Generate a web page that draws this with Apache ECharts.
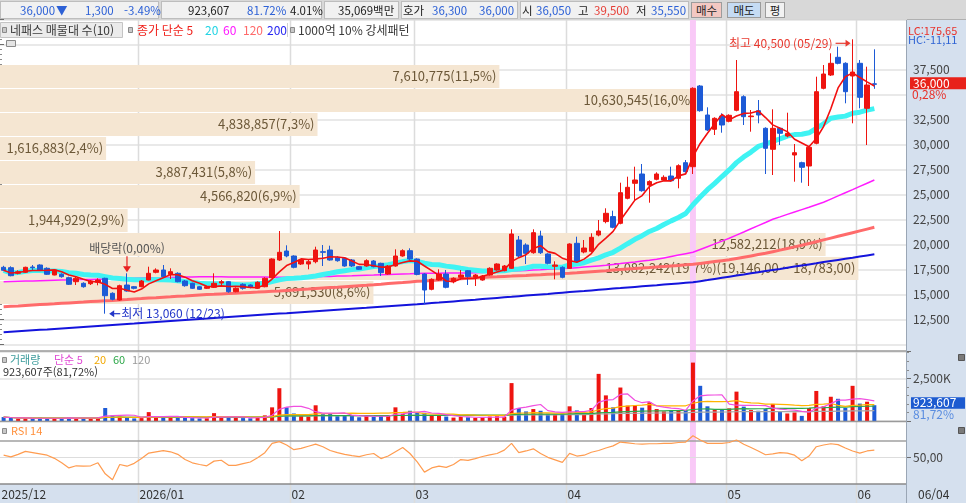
<!DOCTYPE html>
<html lang="ko"><head><meta charset="utf-8"><title>네패스</title>
<script src="https://cdn.jsdelivr.net/npm/echarts@6/dist/echarts.min.js"></script>
<style>
html,body{margin:0;padding:0;width:966px;height:503px;overflow:hidden;background:#fff;font-family:'Noto Sans CJK KR','Noto Sans',sans-serif;}
.bg{position:absolute;}
#chart{position:absolute;left:0;top:0;width:966px;height:503px;}
.hc{position:absolute;top:1px;height:18px;box-sizing:border-box;background:#f1f1f1;border:1px solid #bdbdbd;}
.hb{position:absolute;top:2px;height:16px;box-sizing:border-box;border:1px solid #9c9c9c;font-size:11.5px;line-height:14px;text-align:center;color:#222;}
.ht{position:absolute;top:1px;height:18px;line-height:18px;font-size:11.5px;white-space:nowrap;}
.bl{color:#2d61d6}.rd{color:#e63c34}.dk{color:#222}
</style></head><body>
<div class="bg" style="left:0;top:0;width:966px;height:20px;background:#d8d8d8;border-bottom:1px solid #b0b0b0;box-sizing:border-box"></div>
<div class="bg" style="left:907px;top:20px;width:59px;height:483px;background:#d5e0ee"></div>
<div class="bg" style="left:0;top:484px;width:907px;height:19px;background:#d5e0ee"></div>
<div class="hc" style="left:0;width:159px"></div>
<div class="hc" style="left:161px;width:161px"></div>
<div class="hc" style="left:324px;width:75px"></div>
<div class="hc" style="left:401px;width:117px"></div>
<div class="hc" style="left:520px;width:169px"></div>
<div class="hb" style="left:691px;width:31px;background:#f3c8c2">매수</div>
<div class="hb" style="left:727px;width:34px;background:#c5dbf3">매도</div>
<div class="hb" style="left:765px;width:20px;background:#f2f2f2">평</div>
<div id="chart"></div>
<span class="ht bl" style="left:20px" id="hLast"></span>
<span class="ht bl" style="left:56px">▼</span>
<span class="ht bl" style="left:85px" id="hChg"></span>
<span class="ht bl" style="left:124px" id="hRate"></span>
<span class="ht dk" style="left:188px" id="hVol"></span>
<span class="ht bl" style="left:247px" id="hVolRate"></span>
<span class="ht dk" style="left:290px">4.01%</span>
<span class="ht dk" style="left:338px">35,069백만</span>
<span class="ht dk" style="left:403px">호가</span>
<span class="ht bl" style="left:432px">36,300</span>
<span class="ht bl" style="left:479px">36,000</span>
<span class="ht dk" style="left:522px">시</span>
<span class="ht bl" style="left:536px" id="hOpen"></span>
<span class="ht dk" style="left:578px">고</span>
<span class="ht rd" style="left:594px" id="hHigh"></span>
<span class="ht dk" style="left:636px">저</span>
<span class="ht bl" style="left:651px" id="hLow"></span>
<script>
const FONT = "'Noto Sans CJK KR','Noto Sans',sans-serif";

const tradingDays = {
  '2025/12': [3,4,5,8,9,10,11,12,15,16,17,18,19,22,23,24,26,29,30],
  '2026/01': [2,5,6,7,8,9,12,13,14,15,16,19,20,21,22,23,26,27,28,29,30],
  '2026/02': [2,3,4,5,6,9,10,11,12,13,19,20,23,24,25,26,27],
  '2026/03': [3,4,5,6,9,10,11,12,13,16,17,18,19,20,23,24,25,26,27,30,31],
  '2026/04': [1,2,3,6,7,8,9,10,13,14,15,16,17,20,21,22,23,24,27,28,29,30],
  '2026/05': [4,6,7,8,11,12,13,14,15,18,19,20,21,22,26,27,28,29],
  '2026/06': [1,2,4]
};

const opens = [17700,17660,17100,17200,17730,17930,17600,16930,17000,16660,
16260,16100,16060,16200,16600,15100,14430,15930,15760,15760,
16430,17200,17430,16990,17100,16330,16100,15760,15600,15700,
16130,16260,15260,16000,15930,15600,15760,16660,18430,19330,
18830,18030,18030,18260,19260,19430,18700,18600,18430,17760,
17830,18330,18100,17030,17830,18830,19360,18530,17030,15500,
16430,17030,16260,16700,17360,16700,16430,16930,17430,17360,
17600,20430,19930,19160,20830,19030,17800,17700,17600,20100,
19230,19300,20930,22270,22770,22100,24600,26100,27030,25930,
26500,26430,26830,26600,28160,27760,35830,32930,31500,32830,
32300,33400,34760,32760,33360,31600,29500,31600,30830,28930,
28160,27830,30100,35600,36930,38700,38100,36830,38100,33600,
36050];

const closes = [17400,16860,17260,17700,17660,17430,17000,17430,16760,16000,
16600,15760,16330,16430,14860,14500,15860,15330,15600,16330,
17100,17430,16760,17260,16260,15860,15600,15500,15760,16100,
16260,15260,15600,15600,15700,16200,16600,18530,19200,18830,
17700,18430,18260,19430,19200,18430,18360,17830,17830,17500,
18360,17760,17160,17830,18830,19360,18530,16990,15430,16500,
17030,15700,16600,16930,16760,16930,16830,17600,18030,17830,
21030,18830,19100,21160,19160,18100,17930,16700,20030,18300,
19630,20700,21330,23100,21700,25160,25700,26430,25360,26270,
27030,26700,26360,27860,27260,35600,33360,31430,32600,31930,
32900,35260,32760,32830,32930,29600,31600,31100,31100,29160,
27700,29700,35260,37030,38100,38100,35260,37230,34700,35930,
36000];

const highs = [17850,17800,17400,17760,17930,18000,17700,17500,17100,16760,
16760,16200,16430,16600,16660,15200,15960,17100,15830,16430,
17760,17600,17930,17600,17200,16430,16160,15830,15830,17100,
16430,16330,15700,16100,16000,16300,16700,18600,21330,19900,
18900,18530,18500,19760,19930,19860,18800,18700,18530,17830,
18500,18430,18160,17930,19500,19500,19600,18600,17100,16600,
17500,17430,16700,17430,17430,17030,16930,17700,18100,17930,
21500,20830,20100,21500,21360,19100,18300,17800,20100,20760,
20430,21100,22430,23600,23360,26160,26760,27760,28030,26400,
27200,26900,27760,28000,28430,35700,35930,33700,32700,33100,
33000,38430,34900,33430,34430,31700,33500,31700,33160,30030,
28260,29800,36760,37930,39100,39760,38200,40500,38430,37760,
39500];

const lows = [17350,16800,17000,17130,17400,17400,16930,16900,16660,15930,
15930,15660,15930,15900,13060,14400,14360,15260,15500,15700,
16400,17100,16660,16530,16200,15760,15530,15430,15530,15630,
15760,15160,15200,15460,15600,15530,15700,16600,18330,18700,
17600,17930,17500,18100,17830,18360,18260,17760,17730,17430,
17760,17700,16830,16960,17760,18760,18430,16900,14030,15400,
16360,15600,16100,16430,15930,15830,16360,16860,17360,17300,
17530,18700,18030,19060,19030,18000,16500,16600,17530,18200,
19100,19200,20800,22100,21600,22000,24500,24430,25260,24160,
26400,26330,26260,25600,27160,27030,33260,31330,30930,31160,
32200,33300,31930,31260,32100,27030,26930,29930,30700,26260,
26160,25830,30000,35500,36830,38000,34100,32100,33600,29930,
35550];

const volumes = [230000,180000,140000,160000,130000,200000,170000,150000,160000,210000,
170000,190000,150000,180000,760000,320000,260000,200000,150000,170000,
520000,250000,220000,200000,190000,210000,170000,150000,160000,460000,
200000,230000,180000,170000,160000,210000,330000,800000,1920000,800000,
440000,300000,260000,920000,400000,420000,280000,330000,300000,220000,
300000,250000,320000,300000,800000,420000,600000,520000,480000,320000,
300000,260000,200000,240000,220000,180000,200000,260000,280000,240000,
2220000,760000,560000,700000,600000,420000,380000,440000,860000,620000,
460000,760000,2760000,1500000,800000,1960000,900000,920000,780000,1100000,
700000,560000,620000,640000,620000,3420000,2060000,860000,660000,640000,
740000,1720000,840000,640000,600000,700000,1000000,560000,440000,500000,
300000,760000,1760000,860000,1420000,1300000,760000,2060000,1020000,1130210,
923607];

const ma60Values = [16260,16280,16300,16320,16340,16360,16380,16400,16420,16440,
16450,16470,16490,16510,16530,16550,16570,16580,16600,16620,
16640,16660,16670,16690,16710,16730,16740,16760,16760,16750,
16750,16740,16740,16730,16730,16720,16720,16710,16710,16700,
16700,16700,16720,16750,16770,16790,16820,16840,16860,16890,
16910,16930,16960,16980,17010,17030,17050,17080,17100,17110,
17110,17120,17130,17140,17140,17150,17180,17220,17250,17290,
17320,17360,17390,17430,17460,17500,17530,17570,17600,17660,
17720,17780,17840,17900,17990,18070,18160,18240,18330,18410,
18500,18640,18780,18920,19060,19200,19480,19760,20040,20320,
20600,20920,21230,21550,21870,22180,22500,22740,22990,23230,
23470,23710,23960,24200,24520,24840,25160,25470,25790,26110,
26430];

const ma120Values = [13760,13800,13840,13890,13930,13970,14010,14050,14100,14140,
14180,14220,14270,14310,14350,14390,14440,14480,14530,14570,
14620,14660,14710,14750,14800,14840,14890,14930,14970,15000,
15040,15080,15110,15150,15190,15220,15260,15300,15330,15380,
15430,15480,15520,15570,15620,15670,15710,15760,15810,15860,
15900,15950,16010,16070,16130,16180,16240,16300,16340,16390,
16430,16480,16520,16560,16610,16650,16680,16720,16750,16790,
16820,16860,16890,16930,16960,17000,17030,17070,17100,17150,
17210,17260,17310,17360,17420,17470,17520,17570,17630,17680,
17740,17790,17840,17890,17950,18000,18090,18180,18270,18360,
18450,18580,18710,18840,18970,19100,19260,19420,19580,19740,
19900,20080,20260,20440,20620,20800,20980,21160,21340,21520,
21700];

const ma200Values = [11200,11250,11300,11350,11400,11450,11490,11540,11590,11640,
11690,11740,11790,11840,11890,11940,11990,12040,12080,12130,
12180,12230,12280,12330,12380,12430,12480,12530,12570,12620,
12670,12720,12770,12820,12870,12920,12970,13020,13070,13110,
13160,13210,13260,13310,13360,13410,13460,13510,13560,13610,
13650,13700,13750,13800,13850,13900,13950,14000,14060,14120,
14170,14230,14290,14350,14410,14460,14520,14580,14640,14700,
14750,14810,14870,14930,14990,15040,15100,15160,15220,15280,
15330,15390,15450,15510,15570,15620,15680,15740,15800,15860,
15910,15970,16030,16090,16150,16200,16310,16420,16540,16650,
16760,16870,16980,17100,17210,17320,17430,17540,17660,17770,
17880,17990,18100,18220,18330,18440,18550,18660,18780,18890,
19000];

const rsi14Values = [53,51,54,57.5,56,54.5,53,49.3,44,38,
40.5,40,40.5,44,31,24,42,40,43.4,49,
55.5,57,58.5,57,54,48,44,42,40.5,46,
47,41,41,43,45,50,56,67,69,65,
59.5,61,63.5,66,63,58.5,56,54,52.5,51.3,
53.5,55,49,52,57,62,55,45,33,38,
40,38.6,42,47.8,46.8,49,51.5,53.3,55,59,
67,56,58,60.5,55,50.5,47.5,44.5,55.2,52,
53,56.5,58.5,61.5,64,68.5,67.5,66.5,66,66.5,
66.5,67,67,68,68.5,76,71,67,67,67,
68,71,66,62,58,53.5,54.5,56,55.5,53,
46.5,52,63,65,66.5,65.5,61.5,58,55.5,58,
59];

const maPeriods = [5, 20, 60, 120, 200];
const volMaPeriods = [5, 20, 60, 120];
const rsiPeriod = 14;
const rsiLevels = [70, 50];

const profileLow    = [14030,16430,18830,21230,23630,26030,28430,30830,33230,35630];
const profileHigh   = [16430,18830,21230,23630,26030,28430,30830,33230,35630,38030];
const profileVolume = [5691530,13082242,12582212,1944929,4566820,3887431,1616883,4838857,10630545,7610775];
const profilePeakRange = [19146, 18783];

const patternDays = [95];
const exDividend = [17, 0.00];
const quoteChange = [-1300, -3.49];
const indicatorText = ['LC:175,65', 'HC:-11,11', '0,28%'];

/* ---------- derived ---------- */
const dates = [];
Object.keys(tradingDays).forEach(m => tradingDays[m].forEach(d => dates.push(m + '/' + String(d).padStart(2, '0'))));
const N = dates.length;
const categories = dates.concat(['p1', 'p2', 'p3', 'p4']);
function fmt(n) { return Math.round(n).toString().replace(/\B(?=(\d{3})+(?!\d))/g, ','); }
function movingAvg(arr, n) {
  return arr.map((_, i) => { const s = Math.max(0, i - n + 1); let t = 0; for (let k = s; k <= i; k++) t += arr[k]; return +(t / (i - s + 1)).toFixed(1); });
}
const monthStarts = [];
dates.forEach((d, i) => { if (i === 0 || d.slice(0, 7) !== dates[i - 1].slice(0, 7)) monthStarts.push(i); });
const candleData = dates.map((d, i) => [opens[i], closes[i], lows[i], highs[i]]);
const ma5 = movingAvg(closes, maPeriods[0]);
const ma20 = movingAvg(closes, maPeriods[1]);
const profileTotal = profileVolume.reduce((a, b) => a + b, 0);
const peakBand = profileVolume.indexOf(Math.max(...profileVolume));
const profileText = profileVolume.map((v, i) => fmt(v) + '(' + (v / profileTotal * 100).toFixed(1).replace('.', ',') + '%)' +
  (i === peakBand ? '(' + fmt(profilePeakRange[0]) + ',00 ~ ' + fmt(profilePeakRange[1]) + ',00)' : ''));
const profileData = profileVolume.map((v, i) => [v, profileLow[i], profileHigh[i]]);
let lowIdx = 0, highIdx = 0;
lows.forEach((v, i) => { if (v < lows[lowIdx]) lowIdx = i; });
highs.forEach((v, i) => { if (v > highs[highIdx]) highIdx = i; });
const annotations = [[lowIdx, lows[lowIdx], 0], [highIdx, highs[highIdx], 1], [exDividend[0], highs[exDividend[0]], 2]];
const last = N - 1;
const volRatio = (volumes[last] / volumes[last - 1] * 100).toFixed(2);

document.getElementById('hLast').textContent = fmt(closes[last]);
document.getElementById('hChg').textContent = fmt(Math.abs(quoteChange[0]));
document.getElementById('hRate').textContent = quoteChange[1].toFixed(2) + '%';
document.getElementById('hVol').textContent = fmt(volumes[last]);
document.getElementById('hVolRate').textContent = volRatio + '%';
document.getElementById('hOpen').textContent = fmt(opens[last]);
document.getElementById('hHigh').textContent = fmt(highs[last]);
document.getElementById('hLow').textContent = fmt(lows[last]);

const UP = '#ee1410', DOWN = '#1d5ad6';
const GRID_L = -2.3, GRID_W = 909.3, AXIS_X = 906.5;

function T(x, y, text, fill, size, align, z) {
  return { type: 'text', x: x, y: y, z: z || 20, silent: true,
    style: { text: text, fill: fill, font: size + 'px ' + FONT, align: align || 'left', verticalAlign: 'middle', textAlign: align || 'left', textVerticalAlign: 'middle' } };
}
function R(x, y, w, h, fill, stroke, z) {
  return { type: 'rect', z: z || 19, silent: true, shape: { x: x, y: y, width: w, height: h }, style: { fill: fill, stroke: stroke || null, lineWidth: 1 } };
}
function L(x1, y1, x2, y2, stroke, w, z) {
  return { type: 'line', z: z || 18, silent: true, shape: { x1: x1, y1: y1, x2: x2, y2: y2 }, style: { stroke: stroke, lineWidth: w } };
}

const staticGraphic = [
  L(0, 351, AXIS_X, 351, '#9a9a9a', 1.5),
  L(0, 421.5, AXIS_X, 421.5, '#9a9a9a', 1.5),
  L(0, 484, AXIS_X, 484, '#8a8a8a', 1.5),
  L(AXIS_X, 20, AXIS_X, 503, '#9aa6b5', 1),
  // main legend
  R(0.5, 22.5, 122, 15, '#ebebeb', '#c4c4c4'),
  R(2.5, 27.5, 4, 5, '#c8c8c8', '#8a8a8a'),
  T(10, 30, '네패스 매물대 수(' + profileVolume.length + ')', '#3a3a3a', 12),
  R(128.5, 27.5, 4, 5, '#c8c8c8', '#8a8a8a'),
  T(137, 30, '종가 단순 ' + maPeriods[0], '#f0201a', 12),
  T(205, 30, String(maPeriods[1]), '#22d4e4', 12),
  T(223, 30, String(maPeriods[2]), '#ff18ff', 12),
  T(243, 30, String(maPeriods[3]), '#ff6a6a', 12),
  T(267, 30, String(maPeriods[4]), '#2626f0', 12),
  L(287.5, 23, 287.5, 37, '#cfcfcf', 1),
  R(290.5, 27.5, 4, 5, '#c8c8c8', '#8a8a8a'),
  T(298, 30, '1000억 10% 강세패턴', '#3a3a3a', 12),
  R(6.5, 40.5, 9, 6, '#e4e4e4', '#8a8a8a'),
  // volume legend
  R(2.5, 357.5, 4, 5, '#c8c8c8', '#8a8a8a'),
  T(10, 360, '거래량', '#3b9b9b', 11),
  T(54, 360, '단순 ' + volMaPeriods[0], '#e04ad4', 11),
  T(94, 360, String(volMaPeriods[1]), '#f2a800', 11),
  T(113, 360, String(volMaPeriods[2]), '#2ea84a', 11),
  T(132, 360, String(volMaPeriods[3]), '#9a9a9a', 11),
  T(3, 372, fmt(volumes[last]) + '주(' + volRatio.replace('.', ',') + '%)', '#333', 11),
  // RSI legend
  R(2.5, 428.5, 4, 5, '#c8c8c8', '#8a8a8a'),
  T(11, 431, 'RSI ' + rsiPeriod, '#ff8f3a', 11),
  // right column
  T(908, 31, indicatorText[0], '#e8322c', 11),
  T(908, 40, indicatorText[1], '#2f64d4', 11),
  R(958.5, 354.5, 6, 6, '#7a7a7a', '#555'),
  R(958.5, 427.5, 6, 6, '#7a7a7a', '#555'),
  T(918, 494, dates[last].slice(5), '#333', 12)
];

const option = {
  animation: false,
  textStyle: { fontFamily: FONT },
  grid: [
    { left: GRID_L, width: GRID_W, top: 19.3, height: 325 },
    { left: GRID_L, width: GRID_W, top: 351.5, height: 69.5 },
    { left: GRID_L, width: GRID_W, top: 423, height: 61 }
  ],
  xAxis: [
    { type: 'category', gridIndex: 0, data: categories, show: false },
    { type: 'value', gridIndex: 0, min: 0, max: 13823000, show: false },
    { type: 'category', gridIndex: 1, data: categories, show: false },
    { type: 'category', gridIndex: 2, data: categories, show: false }
  ],
  yAxis: [
    { type: 'value', gridIndex: 0, position: 'right', min: 10000, max: 42500, interval: 2500,
      axisLine: { show: false }, axisTick: { show: true, length: 4, lineStyle: { color: '#6d6d6d' } },
      minorTick: { show: true, splitNumber: 5, length: 2, lineStyle: { color: '#8a8a8a' } },
      splitLine: { lineStyle: { color: '#e2e2e2', width: 1.5 } },
      axisLabel: { margin: 6, color: '#444', fontSize: 12, fontFamily: FONT,
        formatter: v => (v >= 12500 && v <= 37500 && v !== 35000) ? fmt(v) : '' } },
    { type: 'value', gridIndex: 1, position: 'right', min: 0, max: 4070000, interval: 2500000,
      axisLine: { show: false }, axisTick: { show: true, length: 4, lineStyle: { color: '#6d6d6d' } },
      minorTick: { show: true, splitNumber: 5, length: 2, lineStyle: { color: '#8a8a8a' } },
      splitLine: { lineStyle: { color: '#e2e2e2', width: 1.5 } },
      axisLabel: { margin: 6, color: '#444', fontSize: 12, fontFamily: FONT,
        formatter: v => v === 2500000 ? '2,500K' : '' } },
    { type: 'value', gridIndex: 2, position: 'right', min: 19, max: 91,
      axisLine: { show: false }, splitLine: { show: false },
      axisTick: { show: true, length: 4, customValues: [50], lineStyle: { color: '#6d6d6d' } },
      axisLabel: { margin: 6, color: '#444', fontSize: 12, fontFamily: FONT, customValues: [50],
        formatter: v => v === 50 ? '50,00' : '' } }
  ],
  series: [
    { type: 'custom', name: 'monthGrid', xAxisIndex: 0, yAxisIndex: 0, z: 1, silent: true, clip: false,
      data: monthStarts.map(i => [i, 20000]),
      renderItem: (p, api) => {
        const idx = api.value(0);
        const cx = api.coord([idx, api.value(1)])[0];
        const half = api.size([1, 0])[0] / 2;
        const x = Math.round(cx - half) + 0.5;
        const d = dates[idx];
        const label = (idx === 0 || d.slice(5, 7) === '01') ? d.slice(0, 7) : d.slice(5, 7);
        const children = [];
        if (idx > 0) children.push({ type: 'line', shape: { x1: x, y1: 20, x2: x, y2: 503 }, style: { stroke: '#dcdcdc', lineWidth: 1.5 } });
        children.push({ type: 'text', style: { text: label, x: Math.max(0, x + 1), y: 494, fill: '#333', font: '12px ' + FONT,
          align: 'left', verticalAlign: 'middle', textAlign: 'left', textVerticalAlign: 'middle' } });
        return { type: 'group', children: children };
      } },
    { type: 'custom', name: 'profile', xAxisIndex: 1, yAxisIndex: 0, z: 2, silent: true, clip: false,
      data: profileData,
      renderItem: (p, api) => {
        const v = api.value(0), lo = api.value(1), hi = api.value(2);
        const a = api.coord([0, hi]), b = api.coord([v, lo]);
        const y0 = a[1] + 1, h = b[1] - a[1] - 1;
        return { type: 'group', children: [
          { type: 'rect', shape: { x: a[0], y: y0, width: b[0] - a[0], height: h }, style: { fill: '#f5e6d2' } },
          { type: 'text', style: { text: profileText[p.dataIndex], x: b[0] - 3, y: y0 + h / 2, fill: '#6c5838',
            font: '13px ' + FONT, align: 'right', verticalAlign: 'middle', textAlign: 'right', textVerticalAlign: 'middle' } }
        ] };
      } },
    { type: 'custom', name: 'pattern', xAxisIndex: 0, yAxisIndex: 0, z: 3, silent: true, clip: false,
      data: patternDays.map(i => [i, 20000]),
      renderItem: (p, api) => {
        const x = api.coord([api.value(0), api.value(1)])[0];
        return { type: 'rect', shape: { x: x - 3, y: 20, width: 6, height: 464 }, style: { fill: '#f9c9f7' } };
      } },
    { type: 'line', name: 'MA200', xAxisIndex: 0, yAxisIndex: 0, data: ma200Values, symbol: 'none', z: 4, silent: true,
      lineStyle: { color: '#1414dc', width: 2 } },
    { type: 'line', name: 'MA120', xAxisIndex: 0, yAxisIndex: 0, data: ma120Values, symbol: 'none', z: 4, silent: true,
      lineStyle: { color: '#ff6b6b', width: 3 } },
    { type: 'line', name: 'MA60', xAxisIndex: 0, yAxisIndex: 0, data: ma60Values, symbol: 'none', z: 4, silent: true,
      lineStyle: { color: '#ff1cff', width: 1.5 } },
    { type: 'line', name: 'MA20', xAxisIndex: 0, yAxisIndex: 0, data: ma20, symbol: 'none', z: 4, silent: true,
      lineStyle: { color: '#3ff3f3', width: 5 } },
    { type: 'candlestick', name: 'price', xAxisIndex: 0, yAxisIndex: 0, data: candleData, barWidth: 5, z: 5, silent: true,
      itemStyle: { color: UP, color0: DOWN, borderColor: UP, borderColor0: DOWN, borderWidth: 1 } },
    { type: 'line', name: 'MA5', xAxisIndex: 0, yAxisIndex: 0, data: ma5, symbol: 'none', z: 6, silent: true,
      lineStyle: { color: '#f21010', width: 1.6 } },
    { type: 'custom', name: 'marks', xAxisIndex: 0, yAxisIndex: 0, z: 7, silent: true, clip: false,
      data: annotations,
      renderItem: (p, api) => {
        const idx = api.value(0), price = api.value(1), kind = api.value(2);
        const c = api.coord([idx, price]);
        const x = c[0], y = c[1];
        const ts = (text, tx, ty, fill, align) => ({ type: 'text', style: { text: text, x: tx, y: ty, fill: fill, font: '12px ' + FONT,
          align: align, verticalAlign: 'middle', textAlign: align, textVerticalAlign: 'middle' } });
        if (kind === 0) {
          const col = '#2236c8';
          return { type: 'group', children: [
            { type: 'line', shape: { x1: x + 15, y1: y, x2: x + 7, y2: y }, style: { stroke: col, lineWidth: 1.2 } },
            { type: 'polygon', shape: { points: [[x + 4, y], [x + 9, y - 3.5], [x + 9, y + 3.5]] }, style: { fill: col } },
            ts('최저 ' + fmt(price) + ' (' + dates[idx].slice(5) + ')', x + 16, y, col, 'left')
          ] };
        }
        if (kind === 1) {
          const col = '#e83a30', yy = y + 4;
          return { type: 'group', children: [
            { type: 'line', shape: { x1: x - 17, y1: yy, x2: x - 6, y2: yy }, style: { stroke: col, lineWidth: 1.2 } },
            { type: 'polygon', shape: { points: [[x - 2, yy], [x - 7, yy - 3.5], [x - 7, yy + 3.5]] }, style: { fill: col } },
            ts('최고 ' + fmt(price) + ' (' + dates[idx].slice(5) + ')', x - 20, yy, col, 'right')
          ] };
        }
        const col = '#e82020';
        return { type: 'group', children: [
          { type: 'line', shape: { x1: x, y1: y - 17, x2: x, y2: y - 6 }, style: { stroke: col, lineWidth: 1.2 } },
          { type: 'polygon', shape: { points: [[x, y - 1], [x - 4, y - 7], [x + 4, y - 7]] }, style: { fill: col } },
          ts('배당락(' + exDividend[1].toFixed(2).replace('.', ',') + '%)', x, y - 25, '#555', 'center')
        ] };
      } },
    { type: 'bar', name: 'volume', xAxisIndex: 2, yAxisIndex: 1, barWidth: 4, z: 5, silent: true,
      data: volumes.map((v, i) => ({ value: v, itemStyle: { color: closes[i] >= opens[i] ? UP : DOWN } })) },
    { type: 'line', name: 'VMA120', xAxisIndex: 2, yAxisIndex: 1, data: movingAvg(volumes, volMaPeriods[3]), symbol: 'none', z: 6, silent: true,
      lineStyle: { color: '#a8a8a8', width: 1.2 } },
    { type: 'line', name: 'VMA60', xAxisIndex: 2, yAxisIndex: 1, data: movingAvg(volumes, volMaPeriods[2]), symbol: 'none', z: 6, silent: true,
      lineStyle: { color: '#2aa84a', width: 1.2 } },
    { type: 'line', name: 'VMA20', xAxisIndex: 2, yAxisIndex: 1, data: movingAvg(volumes, volMaPeriods[1]), symbol: 'none', z: 6, silent: true,
      lineStyle: { color: '#ffb400', width: 1.2 } },
    { type: 'line', name: 'VMA5', xAxisIndex: 2, yAxisIndex: 1, data: movingAvg(volumes, volMaPeriods[0]), symbol: 'none', z: 6, silent: true,
      lineStyle: { color: '#f050e0', width: 1.2 } },
    { type: 'line', name: 'RSI', xAxisIndex: 3, yAxisIndex: 2, data: rsi14Values, symbol: 'none', z: 6, silent: true,
      lineStyle: { color: '#ff9c50', width: 1.2 },
      markLine: { silent: true, symbol: ['none', 'none'], label: { show: false },
        data: [
          { yAxis: rsiLevels[0], lineStyle: { color: '#a0a0a0', width: 1.5, type: 'solid' } },
          { yAxis: rsiLevels[1], lineStyle: { color: '#dddddd', width: 1, type: 'solid' } }
        ] } }
  ],
  graphic: { elements: staticGraphic }
};

const chart = echarts.init(document.getElementById('chart'), null, { renderer: 'canvas' });
chart.setOption(option);

const yP = chart.convertToPixel({ yAxisIndex: 0 }, closes[last]);
const yV = chart.convertToPixel({ yAxisIndex: 1 }, volumes[last]);
const dynamicGraphic = [
  R(910, yP - 7, 56, 12, '#e8221a', null, 21),
  T(913, yP - 1, fmt(closes[last]), '#ffffff', 12, 'left', 22),
  T(912, yP + 10, indicatorText[2], '#e8302a', 12, 'left', 22),
  R(911, yV - 8, 54, 11.5, '#1d5bd0', null, 21),
  T(913, yV - 2.3, fmt(volumes[last]), '#ffffff', 12, 'left', 22),
  T(913, yV + 9.4, volRatio.replace('.', ',') + '%', '#5a8de0', 12, 'left', 22)
];
chart.setOption({ graphic: { elements: staticGraphic.concat(dynamicGraphic) } });
</script>
</body></html>
